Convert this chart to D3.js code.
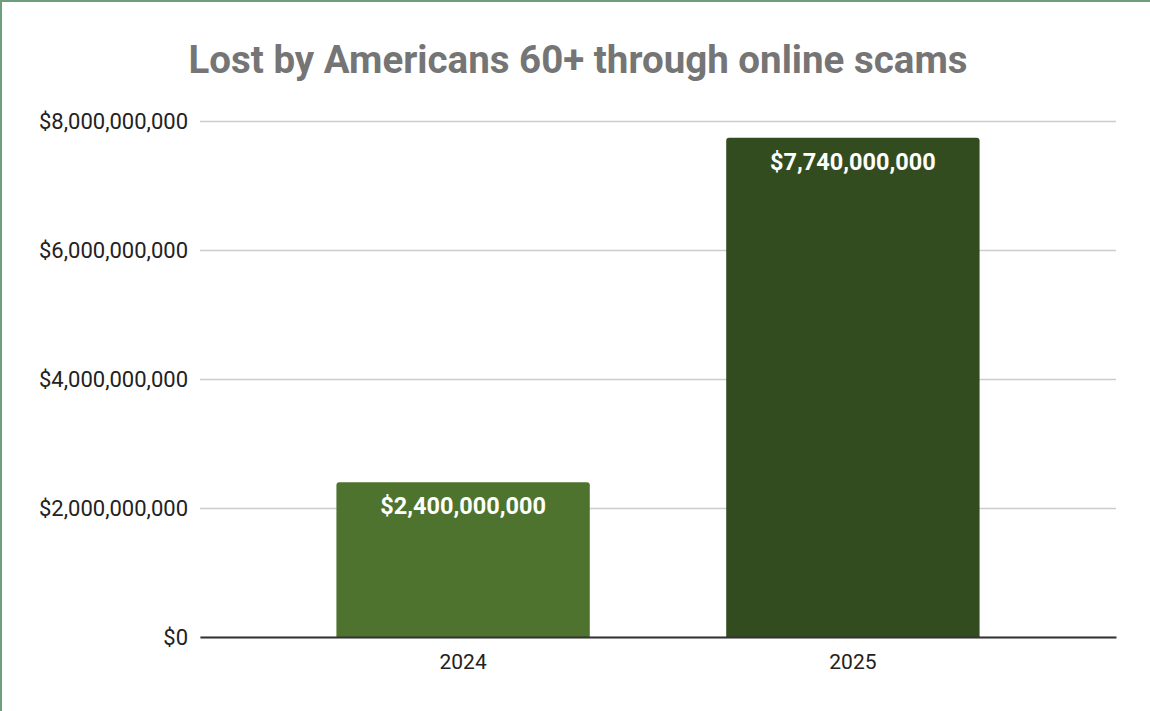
<!DOCTYPE html>
<html>
<head>
<meta charset="utf-8">
<script src="https://cdn.jsdelivr.net/npm/d3@7"></script>
<style>
  html, body { margin: 0; padding: 0; background: #fff; }
  svg { display: block; font-family: Roboto, "Noto Sans", sans-serif; }
</style>
</head>
<body>
<svg id="chart"></svg>
<script>
// chart data
const years = ['2024', '2025'];
const losses = [2400000000, 7740000000];
const barColors = ['#4e732e', '#334c1f'];
const yTicks = [0, 2000000000, 4000000000, 6000000000, 8000000000];
const titleText = 'Lost by Americans 60+ through online scams';

const config = {
  width: 1150,
  height: 711,
  margin: { top: 121, right: 34, bottom: 74, left: 200 }
};

const svg = d3.select('#chart')
    .attr('width', config.width)
    .attr('height', config.height);

// frame (left + top edges in green)
svg.append('line')
    .attr('x1', 1).attr('x2', 1).attr('y1', 0).attr('y2', config.height)
    .attr('stroke', '#6e9e7e').attr('stroke-width', 2);
svg.append('line')
    .attr('x1', 0).attr('x2', config.width).attr('y1', 1).attr('y2', 1)
    .attr('stroke', '#6e9e7e').attr('stroke-width', 2);

const width = config.width - config.margin.left - config.margin.right;
const height = config.height - config.margin.top - config.margin.bottom;

const chart = svg.append('g')
    .attr('transform', `translate(${config.margin.left},${config.margin.top})`);

const xScale = d3.scaleBand()
    .domain(years)
    .range([0, width])
    .paddingInner(0.35)
    .paddingOuter(0.35);

const yScale = d3.scaleLinear()
    .domain([0, 8000000000])
    .range([height, 0]);

const money = d => '$' + d3.format(',')(d);

// title
svg.append('text')
    .attr('x', 578)
    .attr('y', 73)
    .attr('text-anchor', 'middle')
    .attr('font-size', 38.5)
    .attr('font-weight', 700)
    .attr('fill', '#757575')
    .text(titleText);

// gridlines + y labels
const yAxis = d3.axisLeft(yScale)
    .tickValues(yTicks)
    .tickSize(-width)
    .tickPadding(12)
    .tickFormat(money);

const yAxisG = chart.append('g').attr('class', 'axis y-axis').call(yAxis);
yAxisG.select('.domain').remove();
yAxisG.selectAll('line').attr('stroke', '#cccccc').attr('stroke-width', 1.5);
yAxisG.selectAll('text')
    .attr('font-size', 22)
    .attr('font-family', 'Roboto, sans-serif')
    .attr('fill', '#222');

// bars with rounded tops
const r = 3;
chart.selectAll('.bar').data(years).enter()
  .append('path')
    .attr('class', 'bar')
    .attr('fill', (d, i) => barColors[i])
    .attr('d', (d, i) => {
      const x0 = xScale(d), x1 = x0 + xScale.bandwidth();
      const y0 = yScale(losses[i]), y1 = yScale(0);
      return `M${x0},${y1}V${y0 + r}Q${x0},${y0} ${x0 + r},${y0}H${x1 - r}Q${x1},${y0} ${x1},${y0 + r}V${y1}Z`;
    });

// value labels
chart.selectAll('.value').data(years).enter()
  .append('text')
    .attr('class', 'value')
    .attr('x', d => xScale(d) + xScale.bandwidth() / 2)
    .attr('y', (d, i) => yScale(losses[i]) + 32)
    .attr('text-anchor', 'middle')
    .attr('font-size', 23.5)
    .attr('font-weight', 700)
    .attr('fill', '#fff')
    .text((d, i) => money(losses[i]));

// x axis
const xAxis = d3.axisBottom(xScale).tickSize(0).tickPadding(17);
const xAxisG = chart.append('g')
    .attr('class', 'axis x-axis')
    .attr('transform', `translate(0,${height})`)
    .call(xAxis);
xAxisG.select('.domain').attr('stroke', '#333').attr('stroke-width', 2);
xAxisG.selectAll('text')
    .attr('font-size', 21)
    .attr('font-family', 'Roboto, sans-serif')
    .attr('fill', '#222');
</script>
</body>
</html>
